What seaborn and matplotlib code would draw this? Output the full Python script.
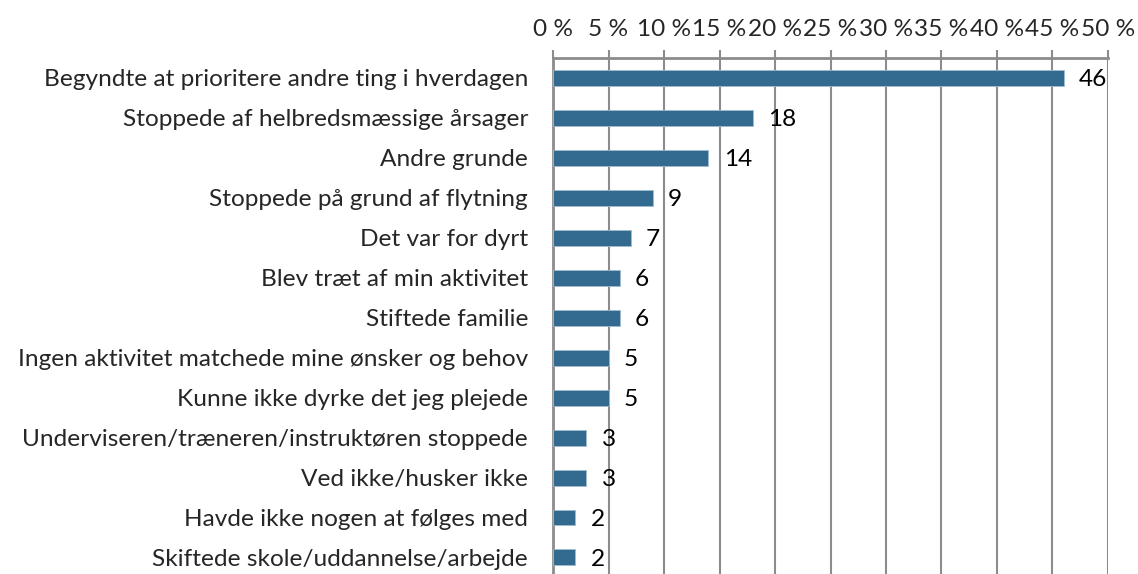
import numpy as np
import pandas as pd
import seaborn as sns
import matplotlib.pyplot as plt
from matplotlib.ticker import FixedLocator, FuncFormatter

# ---------------- Data ----------------
reasons = [
    "Begyndte at prioritere andre ting i hverdagen",
    "Stoppede af helbredsmæssige årsager",
    "Andre grunde",
    "Stoppede på grund af flytning",
    "Det var for dyrt",
    "Blev træt af min aktivitet",
    "Stiftede familie",
    "Ingen aktivitet matchede mine ønsker og behov",
    "Kunne ikke dyrke det jeg plejede",
    "Underviseren/træneren/instruktøren stoppede",
    "Ved ikke/husker ikke",
    "Havde ikke nogen at følges med",
    "Skiftede skole/uddannelse/arbejde",
]
percent = [46, 18, 14, 9, 7, 6, 6, 5, 5, 3, 3, 2, 2]
x_ticks = [0, 5, 10, 15, 20, 25, 30, 35, 40, 45, 50]

df = pd.DataFrame({"reason": reasons, "percent": percent})

# ---------------- Plot ----------------
sns.set_theme(style="white")
plt.rcParams['font.family'] = ['Lato', 'DejaVu Sans']

fs = 17.6
gray = "#8c8c8c"
fig = plt.figure(figsize=(11.38, 5.74), dpi=100)
ax = fig.add_axes([0.486, -0.006, 0.4876, 0.905])

sns.barplot(data=df, x="percent", y="reason", color="#336a90", width=0.4,
            saturation=1, edgecolor="#9fbcd0", linewidth=0.6, ax=ax, zorder=3)

# value labels sit a little below the bar centre, as in the original
for c in ax.containers:
    for t in ax.bar_label(c, fmt="%d", padding=11, fontsize=fs, color="black"):
        t.set_va("center")
        x, y = t.xy
        t.xy = (x, y + 0.05)

ax.set_xlim(0, 50)
ax.set_ylim(len(reasons) - 0.5, -0.5)
ax.xaxis.tick_top()
ax.xaxis.set_major_locator(FixedLocator(x_ticks))
ax.xaxis.set_major_formatter(FuncFormatter(lambda v, p: f"{v:.0f} %"))
ax.tick_params(axis="x", direction="out", length=6, width=1.5, color=gray,
               labelsize=fs, pad=7)
ax.grid(axis="x", color=gray, linewidth=1.5, zorder=0)

# category ticks sit between the rows
ax.yaxis.set_minor_locator(FixedLocator(np.arange(-0.5, len(reasons), 1.0)))
ax.tick_params(axis="y", which="major", length=0, labelsize=fs, pad=18)
ax.tick_params(axis="y", which="minor", direction="out", length=6, width=1.5,
               color=gray)

ax.set_xlabel("")
ax.set_ylabel("")
for side in ["right", "bottom"]:
    ax.spines[side].set_visible(False)
for side in ["left", "top"]:
    ax.spines[side].set_color(gray)
    ax.spines[side].set_linewidth(2)

plt.savefig("out.png", dpi=100)
